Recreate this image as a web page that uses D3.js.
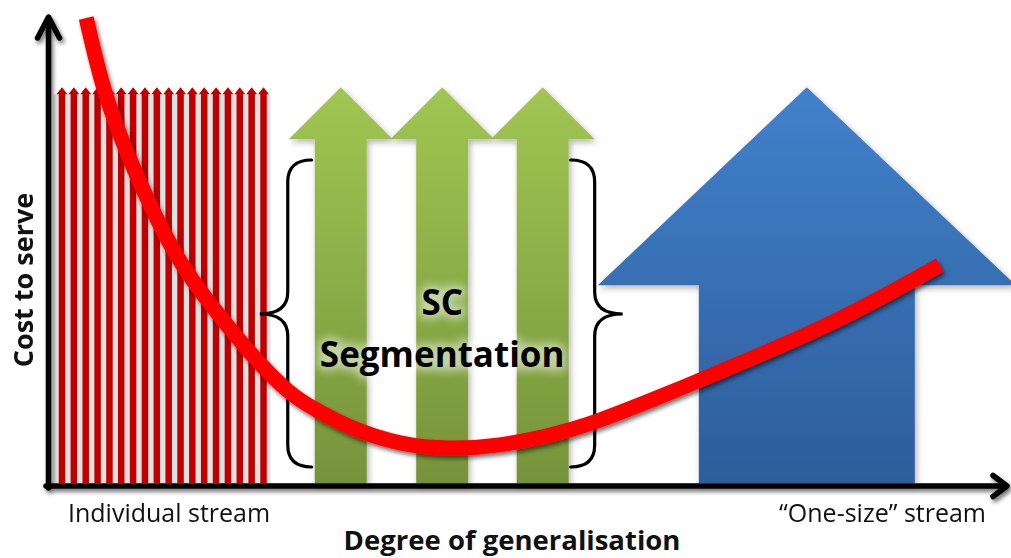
<!DOCTYPE html>
<html>
<head>
<meta charset="utf-8">
<script src="https://cdn.jsdelivr.net/npm/d3@7/dist/d3.min.js"></script>
<style>
  html, body { margin: 0; padding: 0; background: #ffffff; }
  svg { display: block; }
  text { font-family: "Open Sans", "DejaVu Sans", sans-serif; fill: #111; }
</style>
</head>
<body>
<svg id="chart" width="1011" height="558"></svg>
<script>
// Cost-to-serve curve against degree of generalisation (0 = individual, 100 = one-size)
const generalisation = [4.2, 6.1, 9.1, 13.5, 17.9, 21.3, 25.2, 28.3, 31.8, 37.0, 42.2, 47.4, 52.7, 57.9, 64.9, 70.4, 82.2, 93.4];
const costToServe    = [100, 84.6, 68.2, 49.8, 37.0, 28.6, 20.5, 16.2, 12.6, 9.2, 8.1, 8.8, 10.9, 14.1, 19.7, 24.4, 35.0, 47.2];

// Individual streams: one thin arrow per stream
const individualStreams = [1.67, 2.91, 4.15, 5.39, 6.63, 7.86, 9.10, 10.34, 11.58, 12.82,
                           14.06, 15.29, 16.53, 17.77, 19.01, 20.25, 21.49, 22.73];
// Supply-chain segments: three medium arrows
const segments = [30.8, 41.4, 51.9];
// One-size stream: a single wide arrow
const oneSize = [79.5];
// Height reached by every stream arrow
const streamLevel = 85.2;

const axisLabels = { x: "Degree of generalisation", y: "Cost to serve" };
const endLabels = ["Individual stream", "\u201COne-size\u201D stream"];
const segmentLabel = ["SC", "Segmentation"];

const svg = d3.select("#chart");
const x = d3.scaleLinear().domain([0, 100]).range([46, 1003]);
const y = d3.scaleLinear().domain([0, 100]).range([486, 18]);

const defs = svg.append("defs");
const shadow = defs.append("filter").attr("id", "shadow")
  .attr("x", "-20%").attr("y", "-20%").attr("width", "140%").attr("height", "140%");
shadow.append("feDropShadow").attr("dx", 2).attr("dy", 3).attr("stdDeviation", 2.2)
  .attr("flood-color", "#000").attr("flood-opacity", 0.55);
const softShadow = defs.append("filter").attr("id", "softShadow")
  .attr("x", "-20%").attr("y", "-20%").attr("width", "140%").attr("height", "140%");
softShadow.append("feDropShadow").attr("dx", 2).attr("dy", 3).attr("stdDeviation", 3)
  .attr("flood-color", "#000").attr("flood-opacity", 0.3);
const glow = defs.append("filter").attr("id", "glow")
  .attr("x", "-20%").attr("y", "-50%").attr("width", "140%").attr("height", "200%");
glow.append("feGaussianBlur").attr("stdDeviation", 4);

function vGrad(id, top, bottom) {
  const g = defs.append("linearGradient").attr("id", id)
    .attr("x1", 0).attr("y1", 0).attr("x2", 0).attr("y2", 1);
  g.append("stop").attr("offset", "0%").attr("stop-color", top);
  g.append("stop").attr("offset", "100%").attr("stop-color", bottom);
}
vGrad("greenGrad", "#a1c652", "#76933b");
vGrad("blueGrad", "#4181cb", "#2d5d9b");

// Block arrow outline, pointing up, base on the horizontal axis
function arrowPath(cx, topY, baseY, shaftW, headW, headH) {
  const p = d3.path();
  p.moveTo(cx, topY);
  p.lineTo(cx + headW / 2, topY + headH);
  p.lineTo(cx + shaftW / 2, topY + headH);
  p.lineTo(cx + shaftW / 2, baseY);
  p.lineTo(cx - shaftW / 2, baseY);
  p.lineTo(cx - shaftW / 2, topY + headH);
  p.lineTo(cx - headW / 2, topY + headH);
  p.closePath();
  return p.toString();
}
const base = y(0) - 3;

// Individual streams (grey backdrop + red arrows)
const indiv = svg.append("g");
indiv.append("rect")
  .attr("x", x(individualStreams[0]) - 9)
  .attr("y", y(streamLevel) + 7)
  .attr("width", x(individualStreams[individualStreams.length - 1]) - x(individualStreams[0]) + 16)
  .attr("height", base - y(streamLevel) - 7)
  .attr("fill", "#e1e1e1");
indiv.selectAll("path.stream").data(individualStreams).join("path")
  .attr("class", "stream")
  .attr("d", d => arrowPath(x(d), y(streamLevel), base, 6.5, 11, 7))
  .attr("fill", "#c00000");

// Segmented streams
svg.append("g").selectAll("path").data(segments).join("path")
  .attr("d", d => arrowPath(x(d), y(streamLevel), base, 52, 104, 52))
  .attr("fill", "url(#greenGrad)")
  .attr("filter", "url(#softShadow)");

// One-size stream
svg.append("g").selectAll("path").data(oneSize).join("path")
  .attr("d", d => arrowPath(x(d), y(streamLevel), base, 216, 418, 198))
  .attr("fill", "url(#blueGrad)")
  .attr("filter", "url(#softShadow)");

// Curly braces around the segments
function bracePath(xv, xp, xh, top, mid, bottom) {
  // xv: vertical stroke, xp: middle point, xh: hook end
  const r = 22;
  const p = d3.path();
  p.moveTo(xh, top);
  p.quadraticCurveTo(xv, top, xv, top + r);
  p.lineTo(xv, mid - r);
  p.quadraticCurveTo(xv, mid, xp, mid);
  p.quadraticCurveTo(xv, mid, xv, mid + r);
  p.lineTo(xv, bottom - r);
  p.quadraticCurveTo(xv, bottom, xh, bottom);
  return p.toString();
}
const bTop = 160, bMid = 314, bBot = 467;
const leftEdge = x(segments[0]) - 53, rightEdge = x(segments[2]) + 52;
svg.append("path")
  .attr("d", bracePath(leftEdge, leftEdge - 28, leftEdge + 24, bTop, bMid, bBot))
  .attr("fill", "none").attr("stroke", "#000").attr("stroke-width", 3.2)
  .attr("stroke-linecap", "round");
svg.append("path")
  .attr("d", bracePath(rightEdge, rightEdge + 28, rightEdge - 24, bTop, bMid, bBot))
  .attr("fill", "none").attr("stroke", "#000").attr("stroke-width", 3.2)
  .attr("stroke-linecap", "round");

// Segment label with a soft halo
const lblX = x(segments[1]);
const lbl = svg.append("g").attr("font-weight", 700).attr("font-size", 35).attr("text-anchor", "middle");
const lblRows = [[segmentLabel[0], 315], [segmentLabel[1], 367]];
lblRows.forEach(([t, yy]) => {
  lbl.append("text").attr("x", lblX).attr("y", yy).text(t)
    .style("fill", "#ffffff").attr("stroke", "#ffffff").attr("stroke-width", 8)
    .attr("opacity", 0.5).attr("filter", "url(#glow)");
});
lblRows.forEach(([t, yy]) => {
  lbl.append("text").attr("x", lblX).attr("y", yy).text(t).style("fill", "#000");
});

// Axes
const axes = svg.append("g").attr("filter", "url(#shadow)");
const xAxis = axes.append("g").attr("transform", `translate(0,${y(0)})`)
  .call(d3.axisBottom(x).tickValues([]).tickSizeOuter(0));
const yAxis = axes.append("g").attr("transform", `translate(${x(0) + 2.5},0)`)
  .call(d3.axisLeft(y).tickValues([]).tickSizeOuter(0));
xAxis.select(".domain").attr("d", `M${x(0)},0H${x(100) + 3}`)
  .attr("stroke", "#000").attr("stroke-width", 5.5).attr("stroke-linecap", "round");
yAxis.select(".domain").attr("d", `M0,${y(0) + 2}V${y(100)}`)
  .attr("stroke", "#000").attr("stroke-width", 5.5).attr("stroke-linecap", "round");
// arrowheads
axes.append("path")
  .attr("d", `M${x(0) + 2.5 - 11},${y(100) + 20}L${x(0) + 2.5},${y(100) - 1}L${x(0) + 2.5 + 11},${y(100) + 20}`)
  .attr("fill", "none").attr("stroke", "#000").attr("stroke-width", 5.5)
  .attr("stroke-linecap", "round").attr("stroke-linejoin", "round");
axes.append("path")
  .attr("d", `M${x(100) - 10},${y(0) - 10.5}L${x(100) + 4},${y(0)}L${x(100) - 10},${y(0) + 10.5}`)
  .attr("fill", "none").attr("stroke", "#000").attr("stroke-width", 5.5)
  .attr("stroke-linecap", "round").attr("stroke-linejoin", "round");

// Axis titles and end labels
svg.append("text").attr("x", 512).attr("y", 550).attr("text-anchor", "middle")
  .attr("font-size", 27.5).attr("font-weight", 700).text(axisLabels.x);
svg.append("text").attr("transform", "translate(33,280) rotate(-90)").attr("text-anchor", "middle")
  .attr("font-size", 27).attr("font-weight", 700).text(axisLabels.y);
svg.append("text").attr("x", 68).attr("y", 522).attr("font-size", 25).text(endLabels[0]);
svg.append("text").attr("x", 986).attr("y", 522).attr("text-anchor", "end")
  .attr("font-size", 25).text(endLabels[1]);

// Cost curve
const pts = generalisation.map((g, i) => [g, costToServe[i]]);
const line = d3.line().x(d => x(d[0])).y(d => y(d[1])).curve(d3.curveNatural);
svg.append("path").datum(pts)
  .attr("d", line)
  .attr("fill", "none").attr("stroke", "#ff0000").attr("stroke-width", 15)
  .attr("stroke-linecap", "butt").attr("stroke-linejoin", "round")
  .attr("filter", "url(#shadow)");
</script>
</body>
</html>
